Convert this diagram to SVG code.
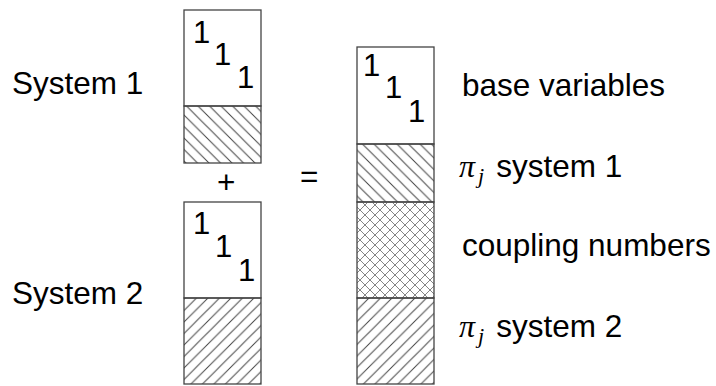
<svg xmlns="http://www.w3.org/2000/svg" width="716" height="386" viewBox="0 0 716 386">
<defs>
<pattern id="hatchBack" patternUnits="userSpaceOnUse" width="11.5" height="11.5">
<path d="M-1,-1 L12.5,12.5 M-6.75,4.75 L6.75,18.25 M4.75,-6.75 L18.25,6.75" stroke="#444" stroke-width="1"/>
</pattern>
<pattern id="hatchFwd" patternUnits="userSpaceOnUse" width="11.5" height="11.5">
<path d="M-1,12.5 L12.5,-1 M-6.75,6.75 L6.75,-6.75 M4.75,18.25 L18.25,4.75" stroke="#444" stroke-width="1"/>
</pattern>
<pattern id="cross" patternUnits="userSpaceOnUse" width="10" height="10">
<path d="M-1,-1 L11,11 M-1,11 L11,-1" stroke="#777" stroke-width="0.9"/>
</pattern>
</defs>
<style>
.box{fill:#fff;stroke:#444;stroke-width:1.3}
.lbl{font-family:"Liberation Sans",Arial,sans-serif;font-size:31.5px;fill:#000}
.one{font-family:"Liberation Sans",Arial,sans-serif;font-size:31px;fill:#000}
.math{font-family:"Liberation Serif","Times New Roman",serif;font-style:italic;fill:#000}
</style>
<g id="system1">
<rect class="box" x="184" y="10" width="77" height="96"/>
<rect class="box" x="184" y="106" width="77" height="57" style="fill:url(#hatchBack)"/>
<text class="one" x="193" y="43">1</text>
<text class="one" x="214" y="65">1</text>
<text class="one" x="237" y="88">1</text>
</g>
<g id="system2">
<rect class="box" x="184" y="202" width="77" height="96"/>
<rect class="box" x="184" y="298" width="77" height="86" style="fill:url(#hatchFwd)"/>
<text class="one" x="193" y="234">1</text>
<text class="one" x="215" y="257">1</text>
<text class="one" x="238" y="281">1</text>
</g>
<g id="combined">
<rect class="box" x="357" y="47" width="77" height="97"/>
<rect class="box" x="357" y="144" width="77" height="58" style="fill:url(#hatchBack)"/>
<rect class="box" x="357" y="202" width="77" height="96" style="fill:url(#cross)"/>
<rect class="box" x="357" y="298" width="77" height="86" style="fill:url(#hatchFwd)"/>
<text class="one" x="363" y="76">1</text>
<text class="one" x="385" y="98">1</text>
<text class="one" x="408" y="122">1</text>
</g>
<g id="labels">
<text class="lbl" x="12" y="94">System 1</text>
<text class="lbl" x="12" y="304">System 2</text>
<text class="lbl" x="217" y="193">+</text>
<text class="lbl" x="300" y="187">=</text>
<text class="lbl" x="462" y="96">base variables</text>
<text x="459" y="177"><tspan class="math" font-size="32">π</tspan><tspan class="math" font-size="22" dx="3" dy="6">j</tspan><tspan class="lbl" dx="12" dy="-6">system 1</tspan></text>
<text class="lbl" x="462" y="256">coupling numbers</text>
<text x="459" y="337"><tspan class="math" font-size="32">π</tspan><tspan class="math" font-size="22" dx="3" dy="6">j</tspan><tspan class="lbl" dx="12" dy="-6">system 2</tspan></text>
</g>
</svg>
